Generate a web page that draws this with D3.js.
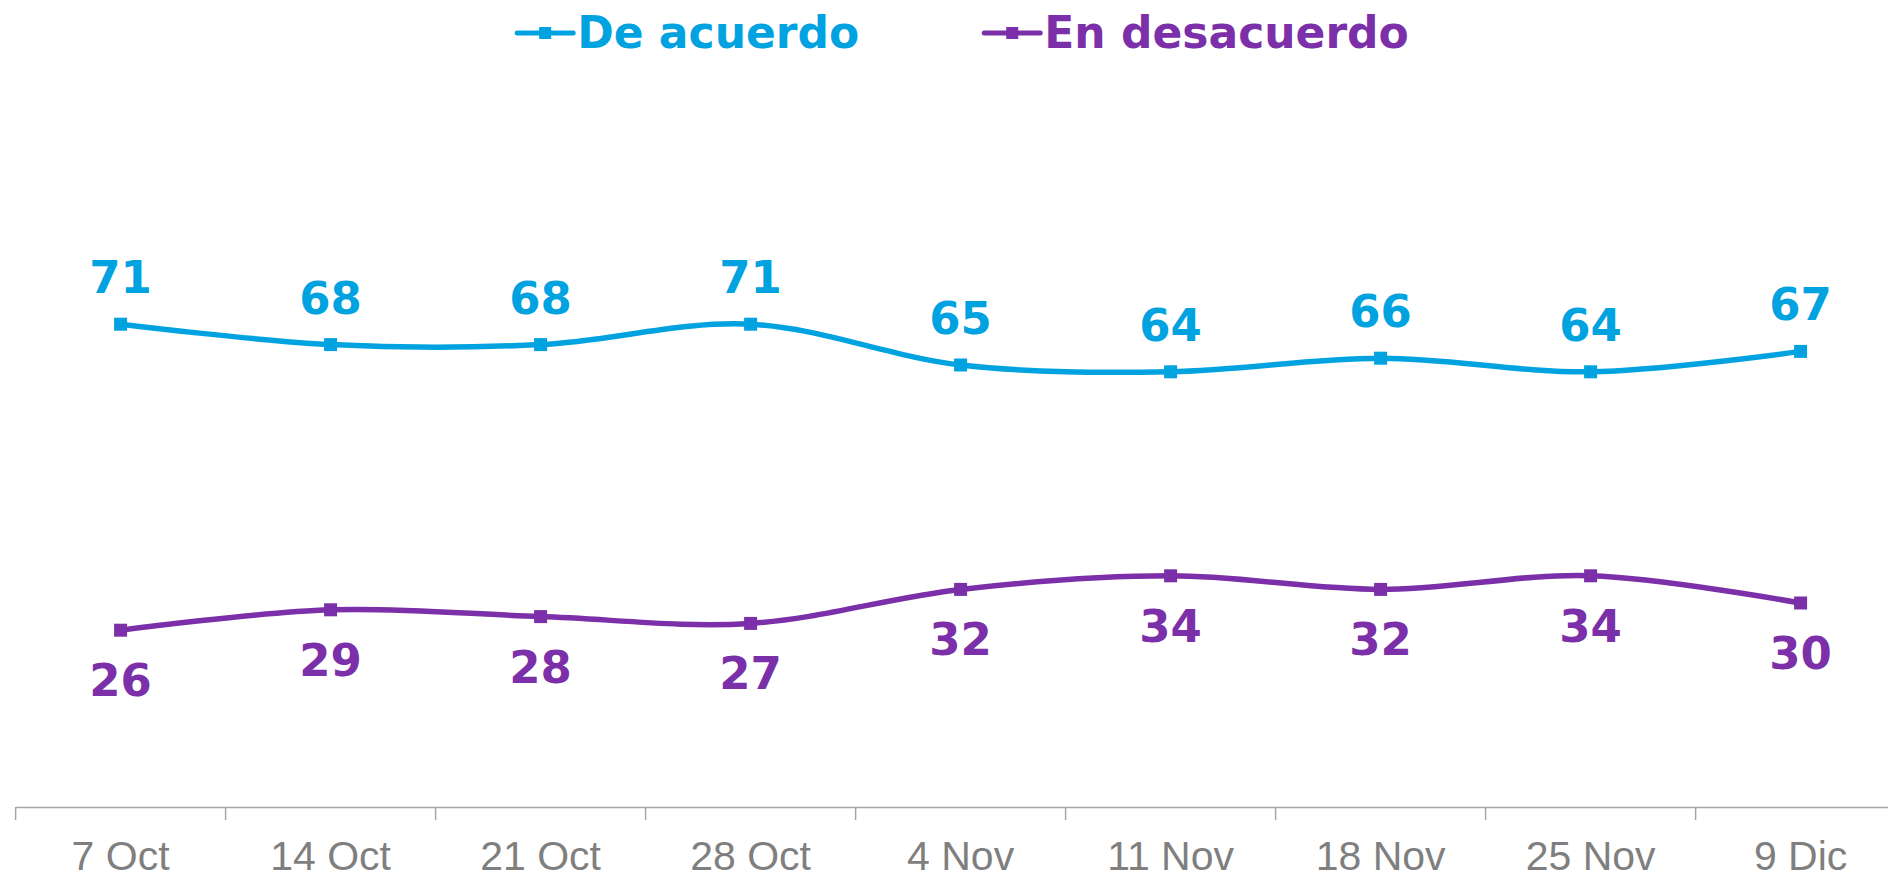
<!DOCTYPE html>
<html>
<head>
<meta charset="utf-8">
<script src="https://cdn.jsdelivr.net/npm/d3@7"></script>
<style>
  body { margin: 0; background: #fff; }
  svg { display: block; font-family: "DejaVu Sans", sans-serif; }
  .axis path, .axis line { stroke: #a6a6a6; stroke-width: 1.5; }
  .axis text { fill: #7f7f7f; font-size: 41px; }
</style>
</head>
<body>
<script>
/* Data */
var dates = ["7 Oct", "14 Oct", "21 Oct", "28 Oct", "4 Nov", "11 Nov", "18 Nov", "25 Nov", "9 Dic"];
var deAcuerdo = [71, 68, 68, 71, 65, 64, 66, 64, 67];
var enDesacuerdo = [26, 29, 28, 27, 32, 34, 32, 34, 30];
var seriesNames = ["De acuerdo", "En desacuerdo"];
var seriesColors = ["#00a3e0", "#7b2fa8"];

var WIDTH = 1888;
const HEIGHT = 880;

var svg = d3.select("body").append("svg")
    .attr("width", WIDTH)
    .attr("height", HEIGHT);

// the last band runs past the right edge in the original
var x = d3.scaleBand().domain(dates).range([15.6, 1905.6]);
var y = d3.scaleLinear().domain([0, 100]).range([807, 127]);

var xAxis = d3.axisBottom(x).tickSize(0).tickPadding(0);
var gx = svg.append("g")
    .attr("class", "axis")
    .attr("transform", "translate(0," + y(0) + ")")
    .call(xAxis);
gx.selectAll(".tick text").attr("dy", null).attr("y", 63);

// tick marks sit between categories
gx.selectAll(".sep")
    .data(dates)
  .enter().append("line")
    .attr("class", "sep")
    .attr("x1", d => x(d))
    .attr("x2", d => x(d))
    .attr("y1", 0)
    .attr("y2", 13);

var line = d3.line()
    .x((d, i) => x(dates[i]) + x.bandwidth() / 2)
    .y(d => y(d))
    .curve(d3.curveCardinal.tension(0));

var series = [deAcuerdo, enDesacuerdo];

series.forEach((vals, s) => {
  var g = svg.append("g");
  g.append("path")
      .datum(vals)
      .attr("fill", "none")
      .attr("stroke", seriesColors[s])
      .attr("stroke-width", 5.5)
      .attr("d", line);
  g.selectAll("rect")
      .data(vals)
    .enter().append("rect")
      .attr("x", (d, i) => x(dates[i]) + x.bandwidth() / 2 - 6.5)
      .attr("y", d => y(d) - 6.5)
      .attr("width", 13)
      .attr("height", 13)
      .attr("fill", seriesColors[s]);
  g.selectAll("text")
      .data(vals)
    .enter().append("text")
      .attr("x", (d, i) => x(dates[i]) + x.bandwidth() / 2)
      .attr("y", d => s == 0 ? y(d) - 31 : y(d) + 66)
      .attr("text-anchor", "middle")
      .attr("fill", seriesColors[s])
      .attr("font-size", 45)
      .attr("font-weight", "bold")
      .text(d => d);
});

/* Legend */
var legend = svg.append("g");
var lx = 0;
seriesNames.forEach((name, s) => {
  var item = legend.append("g").attr("transform", "translate(" + lx + ",0)");
  item.append("line")
      .attr("x1", 0).attr("x2", 56)
      .attr("y1", 33).attr("y2", 33)
      .attr("stroke", seriesColors[s])
      .attr("stroke-width", 5)
      .attr("stroke-linecap", "round");
  item.append("rect")
      .attr("x", 22).attr("y", 27)
      .attr("width", 12).attr("height", 12)
      .attr("fill", seriesColors[s]);
  var t = item.append("text")
      .attr("x", 60)
      .attr("y", 48)
      .attr("fill", seriesColors[s])
      .attr("font-size", 44)
      .attr("font-weight", "bold")
      .text(name);
  lx += 60 + t.node().getComputedTextLength() + 125;
});
var lw = legend.node().getBBox().width;
legend.attr("transform", "translate(" + (963 - lw / 2) + ",0)");
</script>
</body>
</html>
